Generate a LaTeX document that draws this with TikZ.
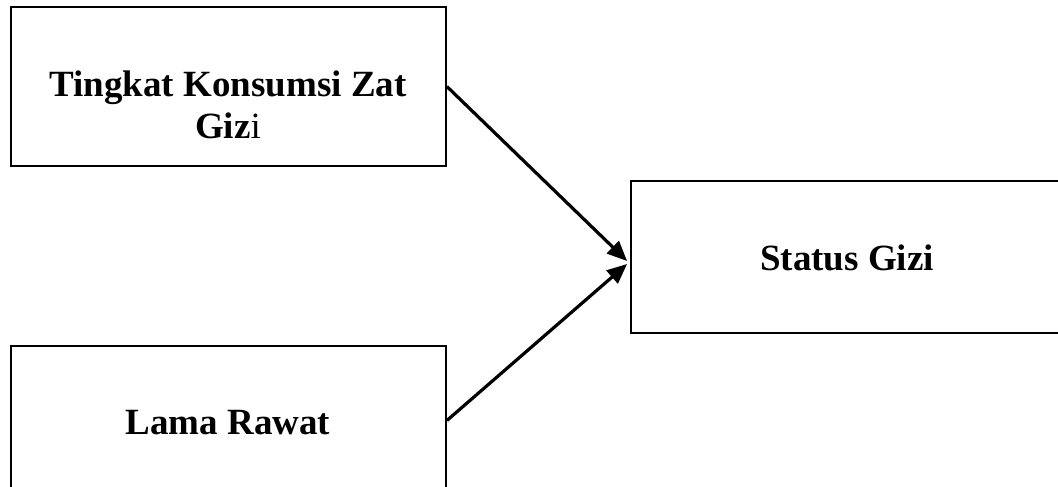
\documentclass[tikz,border=0pt]{standalone}
\usepackage{fontspec}
\setmainfont{Liberation Serif}
\usetikzlibrary{arrows.meta}
\begin{document}
\begin{tikzpicture}[x=1pt,y=-1pt,
  box/.style={draw=black,line width=1.8pt,inner sep=0pt},
  lbl/.style={font=\bfseries\fontsize{37}{42}\selectfont,align=center,anchor=base,inner sep=0pt},
  conn/.style={line width=3.2pt,-{Triangle[length=20pt,width=17pt]}}]
\useasboundingbox (0,0) rectangle (1058,487);
\clip (0,0) rectangle (1058,487);
\node[box,minimum width=435pt,minimum height=159pt] (a) at (228.5,86.5) {};
\node[box,minimum width=435pt,minimum height=149pt] (b) at (228.5,420.5) {};
\node[box,minimum width=431pt,minimum height=152pt] (s) at (846.5,257) {};
\node[lbl] (ta) at (228,138) {Tingkat Konsumsi Zat\\Giz{\mdseries i}};
\node[lbl] (tb) at (228,434) {Lama Rawat};
\node[lbl] (ts) at (847,270) {Status Gizi};
\draw[conn] (a.east) -- ([xshift=-3pt,yshift=-4pt]s.west);
\draw[conn] (b.east) -- ([xshift=-3pt,yshift=-7pt]s.west);
\end{tikzpicture}
\end{document}
